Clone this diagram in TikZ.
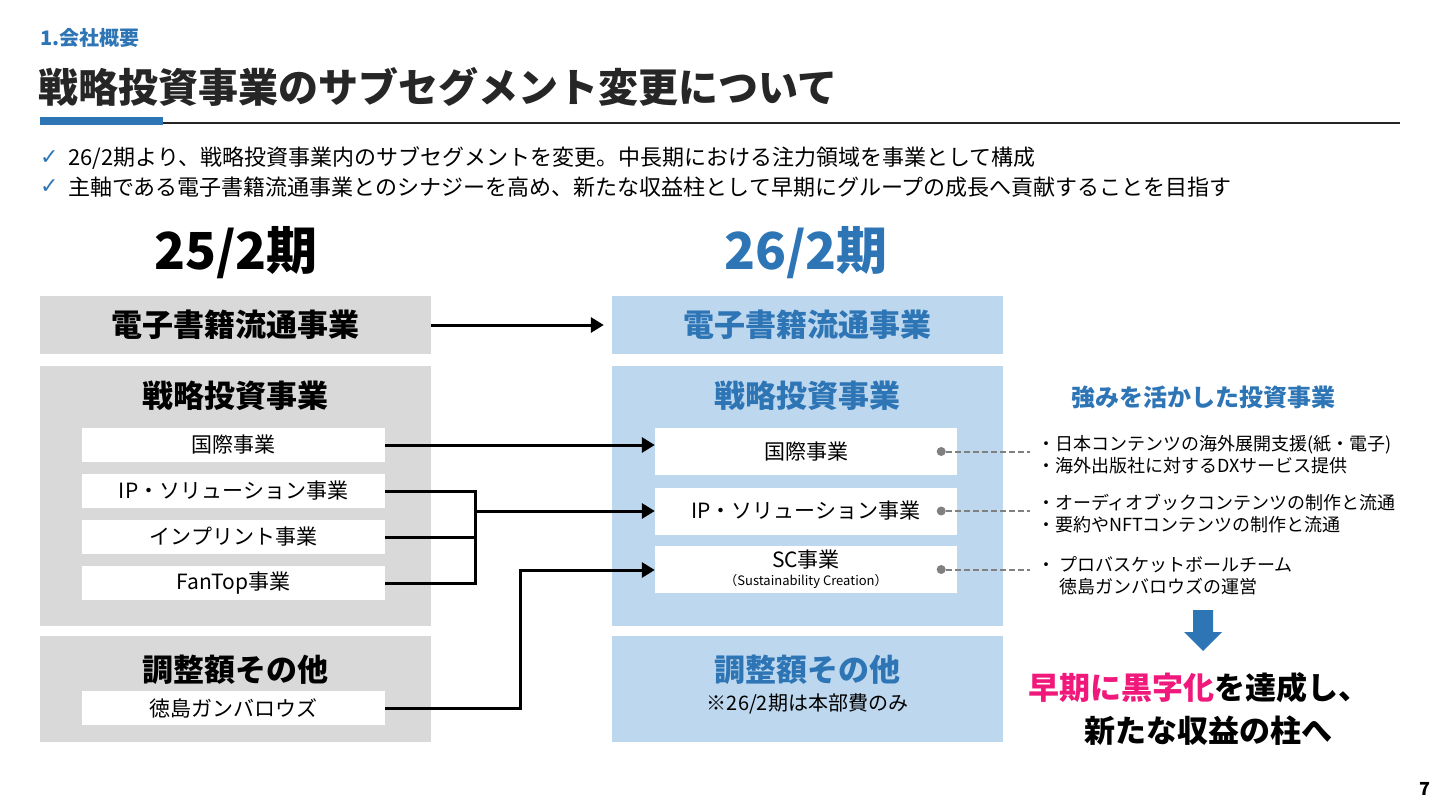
\documentclass[tikz,border=0pt]{standalone}
\usepackage{fontspec}
\setmainfont{Noto Sans CJK JP}
\newfontfamily\symfont{DejaVu Sans}
\usetikzlibrary{positioning,arrows.meta}
\definecolor{mainblue}{HTML}{2E75B6}
\definecolor{blkgray}{HTML}{D9D9D9}
\definecolor{blkblue}{HTML}{BDD7EE}
\definecolor{dotgray}{HTML}{808080}
\definecolor{hotpink}{HTML}{F0187A}
\tikzset{
	grayblk/.style={fill=blkgray, inner sep=0pt, minimum width=391pt},
	blueblk/.style={fill=blkblue, inner sep=0pt, minimum width=391pt},
	leftitem/.style={fill=white, inner sep=0pt, minimum width=303pt,
		minimum height=34pt, font=\fontsize{21}{24}\selectfont},
	rightitem/.style={fill=white, inner sep=0pt, minimum width=302pt,
		minimum height=47pt, font=\fontsize{21}{24}\selectfont, align=center},
	headtxt/.style={font=\fontsize{31}{36}\selectfont\bfseries},
	flow/.style={line width=3pt, -{Triangle[length=13pt,width=15pt]}},
	joint/.style={line width=3pt},
	dotend/.style={circle, fill=dotgray, inner sep=0pt, minimum size=9pt},
	leader/.style={dotgray, line width=2pt, dash pattern=on 6pt off 3pt},
	notetxt/.style={font=\fontsize{18}{22}\selectfont, align=left, anchor=west, inner sep=0pt},
	>=Stealth,
}

\begin{document}
\begin{tikzpicture}[x=1pt, y=-1pt]
\useasboundingbox (0,0) rectangle (1440,810);

% heading
\node [anchor=west, inner sep=0pt, text=mainblue, font=\fontsize{20}{24}\selectfont\bfseries]
	(section) at (40,38) {1.会社概要};
\node [anchor=west, inner sep=0pt, font=\fontsize{40}{46}\selectfont\bfseries, text=black!85]
	(title) at (38,87) {戦略投資事業のサブセグメント変更について};
\fill [mainblue] (40,117) rectangle (163,125);
\draw [line width=2pt, black!85] (163,123) -- (1400,123);

% bullets
\node [anchor=west, inner sep=0pt, text=mainblue, font=\symfont\fontsize{22}{26}\selectfont]
	(chk1) at (40,158) {✓};
\node [anchor=west, inner sep=0pt, font=\fontsize{22}{26}\selectfont]
	(line1) at (68,158) {26/2期より、戦略投資事業内のサブセグメントを変更。中長期における注力領域を事業として構成};
\node [anchor=west, inner sep=0pt, text=mainblue, font=\symfont\fontsize{22}{26}\selectfont]
	(chk2) at (40,187) {✓};
\node [anchor=west, inner sep=0pt, font=\fontsize{22}{26}\selectfont]
	(line2) at (68,187) {主軸である電子書籍流通事業とのシナジーを高め、新たな収益柱として早期にグループの成長へ貢献することを目指す};

% period headers
\node [font=\fontsize{51}{56}\selectfont\bfseries] (oldterm) at (236,253) {25/2期};
\node [font=\fontsize{51}{56}\selectfont\bfseries, text=mainblue] (newterm) at (806,253) {26/2期};

% 25/2 side
\node [grayblk, minimum height=58pt, headtxt] (lbook) at (235.5,325) {電子書籍流通事業};
\node [grayblk, minimum height=260pt] (lstrat) at (235.5,496) {};
\node [headtxt] (lstrathd) at (235.5,396) {戦略投資事業};
\node [leftitem] (lintl) at (233.5,445) {国際事業};
\node [leftitem] (lip) at (233.5,491) {IP・ソリューション事業};
\node [leftitem] (limp) at (233.5,537) {インプリント事業};
\node [leftitem] (lfan) at (233.5,583) {FanTop事業};
\node [grayblk, minimum height=106pt] (ladj) at (235.5,689) {};
\node [headtxt] (ladjhd) at (235.5,670) {調整額その他};
\node [leftitem] (ltoku) at (233.5,708) {徳島ガンバロウズ};

% 26/2 side
\node [blueblk, minimum height=58pt, headtxt, text=mainblue] (rbook) at (807.5,325) {電子書籍流通事業};
\node [blueblk, minimum height=260pt] (rstrat) at (807.5,496) {};
\node [headtxt, text=mainblue] (rstrathd) at (807.5,396) {戦略投資事業};
\node [rightitem] (rintl) at (806,451.5) {国際事業};
\node [rightitem] (rip) at (806,511) {IP・ソリューション事業};
\node [rightitem] (rsc) at (806,569.5)
	{SC事業\\[-6pt]{\fontsize{13}{15}\selectfont （Sustainability Creation）}};
\node [blueblk, minimum height=106pt] (radj) at (807.5,689) {};
\node [headtxt, text=mainblue] (radjhd) at (807.5,670) {調整額その他};
\node [font=\fontsize{20}{24}\selectfont] (radjnote) at (807.5,704) {※26/2期は本部費のみ};

% connectors
\draw [flow, shorten >=8pt] (lbook.east) -- (rbook.west);
\draw [flow] (lintl.east) -- (rintl.west |- lintl.east);
\coordinate (ipjoin) at (475,511);
\draw [joint] (lip.east) -| (ipjoin |- lfan.east) -- (lfan.east);
\draw [joint] (limp.east) -- (limp.east -| ipjoin);
\draw [flow] (ipjoin) -- (rip.west);
\coordinate (scbend) at (520,570);
\draw [flow] (ltoku.east) -| (scbend) -- (rsc.west |- scbend);

% leaders
\node [dotend] (dintl) at ([xshift=-16pt]rintl.east) {};
\node [dotend] (dip) at ([xshift=-16pt]rip.east) {};
\node [dotend] (dsc) at ([xshift=-16pt]rsc.east) {};
\coordinate (eintl) at (1030,451.5);
\coordinate (eip) at (1030,511);
\coordinate (esc) at (1030,569.5);
\draw [leader] (dintl) -- (eintl);
\draw [leader] (dip) -- (eip);
\draw [leader] (dsc) -- (esc);

% notes
\node [font=\fontsize{24}{28}\selectfont\bfseries, text=mainblue] (strong) at (1203,397) {強みを活かした投資事業};
\node [notetxt] (nintl) at (1037,455) {・日本コンテンツの海外展開支援(紙・電子)\\・海外出版社に対するDXサービス提供};
\node [notetxt] (nip) at (1037,514) {・オーディオブックコンテンツの制作と流通\\・要約やNFTコンテンツの制作と流通};
\node [notetxt] (nsc1) at (1037,565) {・ プロバスケットボールチーム};
\node [notetxt] (nsc2) at (1059,587) {徳島ガンバロウズの運営};

% result
\fill [mainblue] (1193,610) -- (1213,610) -- (1213,632) -- (1222,632) -- (1203,651)
	-- (1184,632) -- (1193,632) -- cycle;
\node [font=\fontsize{31}{36}\selectfont\bfseries] (goal1) at (1199,688)
	{\textcolor{hotpink}{早期に黒字化}を達成し、};
\node [font=\fontsize{31}{36}\selectfont\bfseries] (goal2) at (1208,731) {新たな収益の柱へ};

\node [font=\fontsize{18}{22}\selectfont\bfseries] (pageno) at (1425,789) {7};
\end{tikzpicture}
\end{document}
